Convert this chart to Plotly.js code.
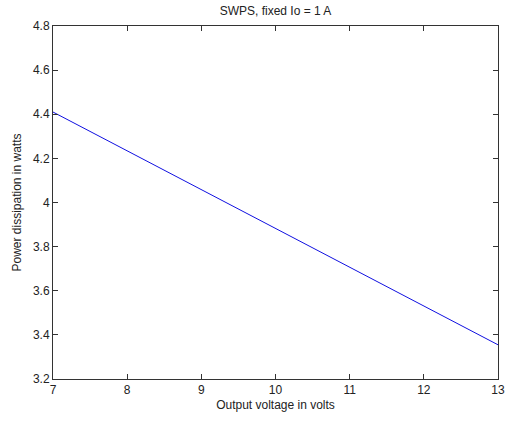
<!DOCTYPE html>
<html><head><meta charset="utf-8">
<script src="https://cdn.plot.ly/plotly-3.0.1.min.js"></script>
<style>html,body{margin:0;padding:0;background:#fff;}#plot{width:506px;height:423px;}</style>
</head><body><div id="plot"></div>
<script>
const voltage = [7, 8, 9, 10, 11, 12, 13];
const power = [4.41, 4.234, 4.058, 3.882, 3.707, 3.531, 3.355];
const xTicks = [7, 8, 9, 10, 11, 12, 13];
const yTicks = [3.2, 3.4, 3.6, 3.8, 4, 4.2, 4.4, 4.6, 4.8];

const axisCommon = {
  showgrid: false, zeroline: false, showline: true, mirror: 'ticks',
  linecolor: '#333', linewidth: 1, ticks: 'inside', ticklen: 5, tickcolor: '#333',
  tickfont: {family: 'Liberation Sans, Arial, sans-serif', size: 12, color: '#222'}
};
Plotly.newPlot('plot', [{
  x: voltage, y: power, type: 'scatter', mode: 'lines',
  line: {color: '#1010e0', width: 1}
}], {
  width: 506, height: 423,
  margin: {l: 53, r: 8, t: 26, b: 44},
  paper_bgcolor: '#fff', plot_bgcolor: '#fff',
  showlegend: false,
  title: {text: 'SWPS, fixed Io = 1 A', xref: 'paper', x: 0.5, xanchor: 'center', y: 0.985, yanchor: 'top',
    font: {family: 'Liberation Sans, Arial, sans-serif', size: 12, color: '#222'}},
  xaxis: Object.assign({}, axisCommon, {range: [7, 13], tickvals: xTicks, ticktext: xTicks.map(String),
    title: {text: 'Output voltage in volts', standoff: 4, font: {family: 'Liberation Sans, Arial, sans-serif', size: 12, color: '#222'}}}),
  yaxis: Object.assign({}, axisCommon, {range: [3.2, 4.8], tickvals: yTicks, ticktext: yTicks.map(String),
    title: {text: 'Power dissipation in watts', standoff: 8, font: {family: 'Liberation Sans, Arial, sans-serif', size: 12, color: '#222'}}})
}, {displayModeBar: false, staticPlot: true});
</script></body></html>
